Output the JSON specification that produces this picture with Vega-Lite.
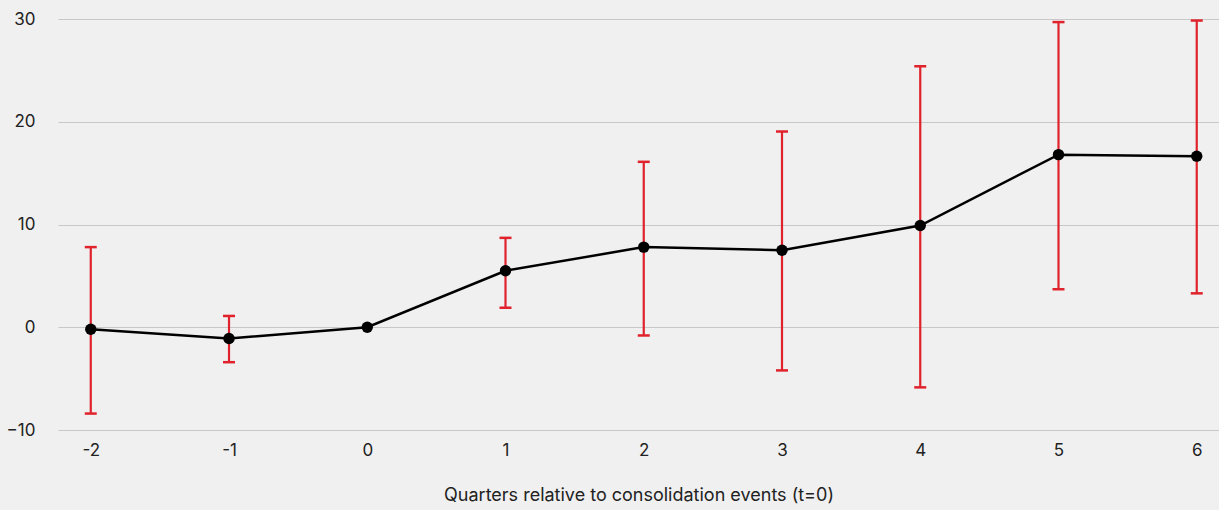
{
  "$schema": "https://vega.github.io/schema/vega-lite/v6.json",
  "width": 1161,
  "height": 411,
  "autosize": {"type": "none"},
  "padding": {"left": 58, "top": 19, "right": 0, "bottom": 80},
  "background": "#f0f0f0",
  "config": {
    "view": {"stroke": null},
    "font": "Inter",
    "axis": {"labelFont": "Inter", "titleFont": "Inter", "labelColor": "#222222", "titleColor": "#222222"}
  },
  "data": {
    "values": [
      {"q": -2, "est": -0.2, "lo": -8.4, "hi": 7.8},
      {"q": -1, "est": -1.1, "lo": -3.4, "hi": 1.1},
      {"q": 0, "est": 0, "lo": null, "hi": null},
      {"q": 1, "est": 5.5, "lo": 1.9, "hi": 8.7},
      {"q": 2, "est": 7.8, "lo": -0.8, "hi": 16.1},
      {"q": 3, "est": 7.5, "lo": -4.2, "hi": 19.05},
      {"q": 4, "est": 9.9, "lo": -5.85, "hi": 25.4},
      {"q": 5, "est": 16.8, "lo": 3.7, "hi": 29.7},
      {"q": 6, "est": 16.65, "lo": 3.3, "hi": 29.85}
    ]
  },
  "encoding": {
    "x": {
      "field": "q",
      "type": "quantitative",
      "scale": {"domain": [-2.237, 6.161], "nice": false, "zero": false},
      "axis": {
        "values": [-2, -1, 0, 1, 2, 3, 4, 5, 6],
        "labelExpr": "'' + datum.value",
        "grid": false,
        "ticks": false,
        "domain": false,
        "labelFontSize": 17,
        "labelPadding": 12,
        "title": "Quarters relative to consolidation events (t=0)",
        "titleFontSize": 18,
        "titleFontWeight": "normal",
        "titlePadding": 28
      }
    }
  },
  "layer": [
    {
      "mark": {"type": "rule", "color": "#ffffff", "opacity": 0},
      "encoding": {
        "y": {
          "field": "est",
          "type": "quantitative",
          "scale": {"domain": [-10, 30], "nice": false},
          "axis": {
            "values": [-10, 0, 10, 20, 30],
            "grid": true,
            "gridColor": "#c8c8c8",
            "gridWidth": 1,
            "ticks": false,
            "domain": false,
            "labelFontSize": 17,
            "labelPadding": 23,
            "title": null
          }
        }
      }
    },
    {
      "transform": [{"filter": "datum.lo != null"}],
      "mark": {"type": "rule", "color": "#e0222c", "strokeWidth": 2.2},
      "encoding": {
        "y": {"field": "lo", "type": "quantitative"},
        "y2": {"field": "hi"}
      }
    },
    {
      "transform": [{"filter": "datum.lo != null"}],
      "mark": {"type": "tick", "color": "#e0222c", "orient": "horizontal", "size": 12, "thickness": 2.5, "opacity": 1},
      "encoding": {"y": {"field": "lo", "type": "quantitative"}}
    },
    {
      "transform": [{"filter": "datum.lo != null"}],
      "mark": {"type": "tick", "color": "#e0222c", "orient": "horizontal", "size": 12, "thickness": 2.5, "opacity": 1},
      "encoding": {"y": {"field": "hi", "type": "quantitative"}}
    },
    {
      "mark": {"type": "line", "color": "#000000", "strokeWidth": 2.5},
      "encoding": {"y": {"field": "est", "type": "quantitative"}}
    },
    {
      "mark": {"type": "point", "filled": true, "color": "#000000", "size": 130, "opacity": 1},
      "encoding": {"y": {"field": "est", "type": "quantitative"}}
    }
  ]
}
